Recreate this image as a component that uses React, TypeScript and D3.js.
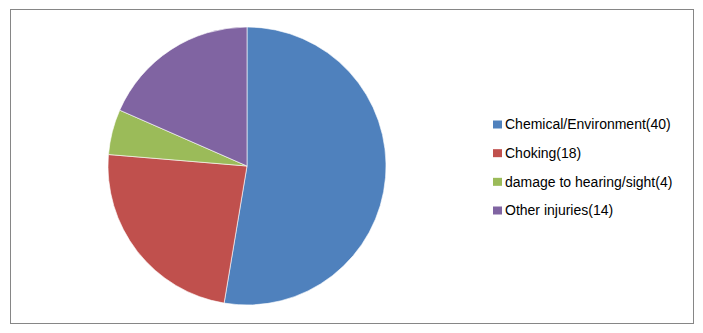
import React from "react";
import * as d3 from "d3";

const categories = ["Chemical/Environment", "Choking", "damage to hearing/sight", "Other injuries"];
const values = [40, 18, 4, 14];
const colors = ["#4F81BD", "#C0504D", "#9BBB59", "#8064A2"];

export default function App() {
  const W = 703, H = 333;
  const cx = 247, cy = 166, r = 139;
  const pie = d3.pie<number>().sort(null).value((d) => d);
  const arcs = pie(values);
  const arcGen = d3.arc<d3.PieArcDatum<number>>().innerRadius(0).outerRadius(r);
  const legendY = d3.scalePoint<number>().domain(d3.range(categories.length)).range([124.5, 210.5]);
  return (
    <svg width={W} height={H} style={{ position: "absolute", left: 0, top: 0 }}>
      <rect x={10.5} y={9.5} width={683} height={314} fill="#fff" stroke="#868686" strokeWidth={1} />
      <g transform={`translate(${cx},${cy})`}>
        {arcs.map((a, i) => (
          <path key={i} d={arcGen(a) || ""} fill={colors[i]} stroke="#fff" strokeWidth={0.6} />
        ))}
      </g>
      <g fontFamily="Liberation Sans, Arial, sans-serif" fontSize={14} fill="#000">
        {categories.map((c, i) => (
          <g key={i} transform={`translate(493,${legendY(i)})`}>
            <rect x={0} y={-4} width={9} height={8} fill={colors[i]} />
            <text x={12} y={0} dy="0.35em">{`${c}(${values[i]})`}</text>
          </g>
        ))}
      </g>
    </svg>
  );
}
